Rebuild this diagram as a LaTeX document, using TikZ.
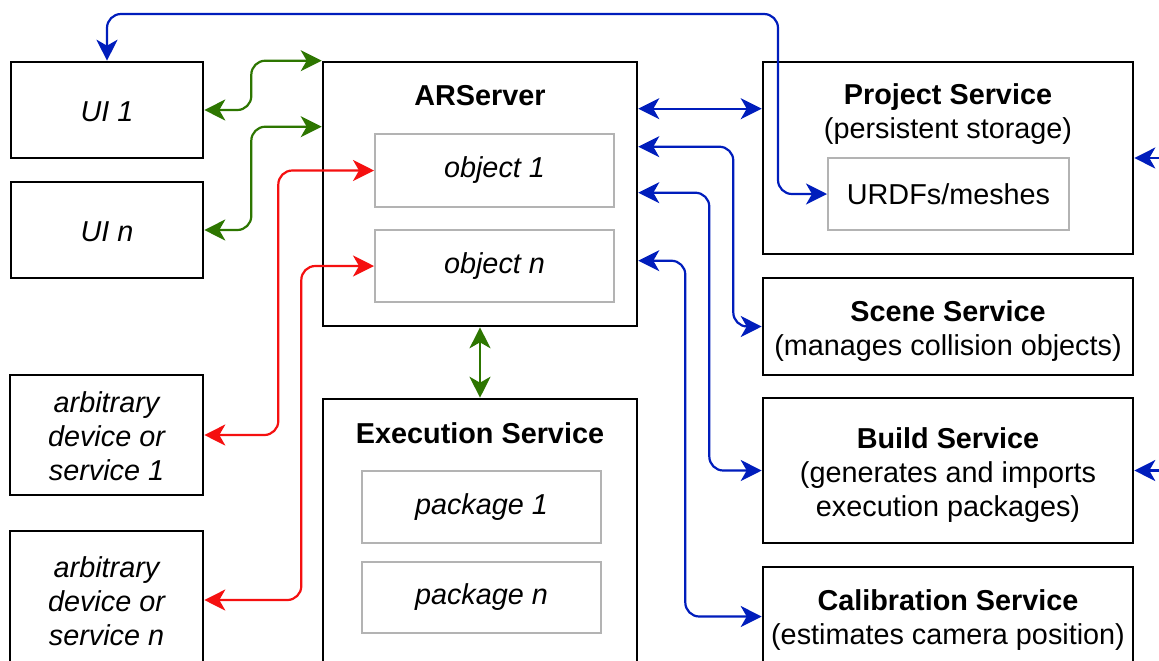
\documentclass[tikz,border=0pt]{standalone}
\usepackage{fontspec}
\setmainfont{Liberation Sans}
\usetikzlibrary{arrows.meta,calc}
\definecolor{cgreen}{HTML}{2D7600}
\definecolor{cred}{HTML}{F51010}
\definecolor{cblue}{HTML}{001DBC}
\definecolor{cgray}{HTML}{B3B3B3}
\begin{document}
\begin{tikzpicture}[x=0.5pt,y=-0.5pt,
  font=\fontsize{14.4}{17}\selectfont,
  box/.style={draw=black, line width=1.3pt, fill=white, inner sep=0pt, align=center},
  inbox/.style={draw=cgray, line width=1pt, fill=white, inner sep=0pt, align=center},
  txt/.style={align=center, inner sep=0pt},
  conn/.style={line width=1.1pt, rounded corners=7pt, {Stealth[length=10.5pt,width=10.5pt,inset=3pt]}-{Stealth[length=10.5pt,width=10.5pt,inset=3pt]}},
  gconn/.style={conn, color=cgreen},
  rconn/.style={conn, color=cred},
  bconn/.style={conn, color=cblue},
  bstub/.style={line width=1.1pt, color=cblue, -{Stealth[length=10.5pt,width=10.5pt,inset=3pt]}},
]
\clip (0,0) rectangle (1159,660);
\fill[white] (0,0) rectangle (1159,660);

% left column
\node[box, minimum width=96pt, minimum height=48pt] (ui1) at (107,110) {};
\node[txt] (ui1t) at (107,111.5) {\itshape UI 1};
\node[box, minimum width=96pt, minimum height=48pt] (uin) at (107,230) {};
\node[txt] (uint) at (107,231.5) {\itshape UI n};
\node[box, minimum width=96.5pt, minimum height=60pt] (arb1) at (106.5,435) {};
\node[txt] (arb1t) at (106.5,436.5) {\itshape arbitrary\\\itshape device or\\\itshape service 1};
\node[box, minimum width=96.5pt, minimum height=69pt] (arbn) at (106.5,600) {};
\node[txt] (arbnt) at (106.5,601.5) {\itshape arbitrary\\\itshape device or\\\itshape service n};

% ARServer
\node[box, minimum width=157pt, minimum height=132pt] (ar) at (480,194) {};
\node[txt] (art) at (480,96) {\bfseries ARServer};
\node[inbox, minimum width=119.5pt, minimum height=36.5pt] (obj1) at (494.5,170.5) {\itshape object 1};
\node[inbox, minimum width=119.5pt, minimum height=36pt] (objn) at (494.5,266) {\itshape object n};

% Execution Service
\node[box, minimum width=157pt, minimum height=180pt] (exec) at (480,579) {};
\node[txt] (exect) at (480,433) {\bfseries Execution Service};
\node[inbox, minimum width=119.5pt, minimum height=36pt] (pkg1) at (481.5,507) {\itshape package 1};
\node[inbox, minimum width=119.5pt, minimum height=35.5pt] (pkgn) at (481.5,597.5) {\itshape package n};

% right column
\node[box, minimum width=185pt, minimum height=96pt] (proj) at (948,158) {};
\node[txt] (projt) at (948,114.5) {\bfseries Project Service\\(persistent storage)};
\node[inbox, minimum width=120.5pt, minimum height=36pt] (urdf) at (948.5,194) {URDFs/meshes};
\node[box, minimum width=185pt, minimum height=48.5pt] (scene) at (948,326.5) {};
\node[txt] (scenet) at (948,331) {\bfseries Scene Service\\(manages collision objects)};
\node[box, minimum width=185pt, minimum height=72.5pt] (build) at (948,470.5) {};
\node[txt] (buildt) at (948,475) {\bfseries Build Service\\(generates and imports\\execution packages)};
\node[box, minimum width=185pt, minimum height=49.5pt] (cal) at (948,616.5) {};
\node[txt] (calt) at (948,620.5) {\bfseries Calibration Service\\(estimates camera position)};

% green connectors
\draw[gconn] (ui1.east) -- ++(47,0) |- (ar.north west);
\draw[gconn] (uin.east) -- ++(47,0) |- ($(ar.north west)+(0,66)$);
\draw[gconn] (ar.south) -- (exec.north);

% red connectors
\draw[rconn] (arb1.east) -- ++(74,0) |- (obj1.west);
\draw[rconn] (arbn.east) -- ++(97,0) |- (objn.west);

% blue connectors
\coordinate (topr) at (778,14);
\draw[bconn] (ui1.north) |- (topr) |- (urdf.west);
\draw[bconn] ($(ar.north east)+(0,48)$) -- ($(proj.north west)+(0,48)$);
\draw[bconn] ($(ar.north east)+(0,86)$) -- ++(95,0) |- (scene.west);
\draw[bconn] ($(ar.north east)+(0,132)$) -- ++(71,0) |- (build.west);
\draw[bconn] ($(ar.north east)+(0,200)$) -- ++(47,0) |- (cal.west);
\coordinate (rs1) at (1175,158);
\coordinate (rs2) at (1175,470.5);
\draw[bstub] (rs1) -- (proj.east);
\draw[bstub] (rs2) -- (build.east);
\end{tikzpicture}
\end{document}
